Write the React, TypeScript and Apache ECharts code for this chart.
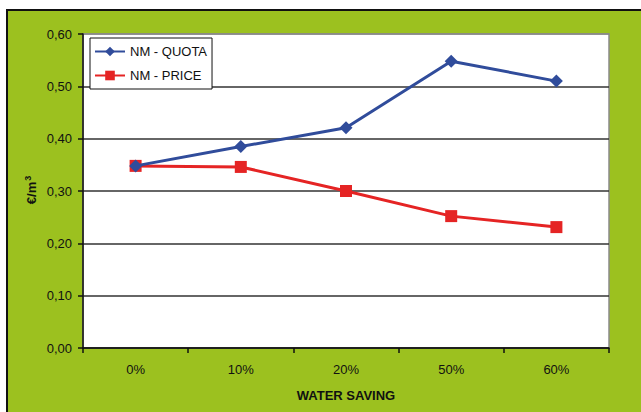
import React, { useEffect, useRef } from "react";
import * as echarts from "echarts";

const categories = ["0%", "10%", "20%", "50%", "60%"];
const quotaValues = [0.348, 0.385, 0.421, 0.548, 0.510];
const priceValues = [0.348, 0.346, 0.300, 0.252, 0.231];
const seriesNames = ["NM - QUOTA", "NM - PRICE"];

const FONT = "'Liberation Sans', Arial, sans-serif";
const GREEN = "#9cc11f";

export default function App() {
  const ref = useRef<HTMLDivElement>(null);
  useEffect(() => {
    if (!ref.current) return;
    const chart = echarts.init(ref.current, null, { renderer: "svg" });
    chart.setOption({
      animation: false,
      backgroundColor: "#ffffff",
      textStyle: { fontFamily: FONT },
      graphic: [
        {
          type: "rect",
          z: -10,
          silent: true,
          shape: { x: 7, y: 10, width: 650, height: 420 },
          style: { fill: GREEN, stroke: "#111", lineWidth: 2 },
        },
        {
          type: "text",
          x: 31,
          y: 190,
          rotation: Math.PI / 2,
          style: {
            text: "€/m{sup|3}",
            font: `bold 13px ${FONT}`,
            fill: "#111",
            align: "center",
            verticalAlign: "middle",
            rich: {
              sup: {
                fontSize: 9,
                fontWeight: "bold",
                fontFamily: FONT,
                fill: "#111",
                padding: [0, 0, 7, 1],
              },
            },
          },
        },
        {
          type: "text",
          x: 346,
          y: 395,
          style: {
            text: "WATER SAVING",
            font: `bold 13px ${FONT}`,
            fill: "#111",
            align: "center",
            verticalAlign: "middle",
          },
        },
      ],
      grid: {
        left: 83,
        top: 34,
        right: 32,
        bottom: 64,
        show: true,
        backgroundColor: "#ffffff",
        borderColor: "#8a8a8a",
        borderWidth: 1.5,
      },
      legend: {
        left: 90,
        top: 38,
        orient: "vertical",
        backgroundColor: "#ffffff",
        borderColor: "#111",
        borderWidth: 1,
        padding: [7, 5, 7, 4],
        itemWidth: 30,
        itemHeight: 12,
        itemGap: 11,
        textStyle: { fontFamily: FONT, fontSize: 13, color: "#111" },
        data: seriesNames,
      },
      xAxis: {
        type: "category",
        data: categories,
        boundaryGap: true,
        axisLine: { lineStyle: { color: "#111", width: 1.5 } },
        axisTick: { show: true, length: 5, lineStyle: { color: "#111", width: 1.5 } },
        axisLabel: { color: "#111", fontSize: 13, fontFamily: FONT, margin: 15 },
      },
      yAxis: {
        type: "value",
        min: 0,
        max: 0.6,
        interval: 0.1,
        axisLine: { show: true, lineStyle: { color: "#111", width: 1.5 } },
        axisTick: { show: true, length: 5, lineStyle: { color: "#111", width: 1.5 } },
        axisLabel: {
          color: "#111",
          fontSize: 13,
          fontFamily: FONT,
          margin: 11,
          formatter: (v: number) => v.toFixed(2).replace(".", ","),
        },
        splitLine: {
          lineStyle: {
            color: ["#333", "#333", "#333", "#333", "#333", "#333", "#8a8a8a"],
            width: 1.5,
          },
        },
      },
      series: [
        {
          name: seriesNames[0],
          type: "line",
          data: quotaValues,
          symbol: "diamond",
          symbolSize: 13,
          itemStyle: { color: "#304c9b" },
          lineStyle: { color: "#304c9b", width: 3 },
          z: 3,
        },
        {
          name: seriesNames[1],
          type: "line",
          data: priceValues,
          symbol: "rect",
          symbolSize: 12,
          itemStyle: { color: "#e52424" },
          lineStyle: { color: "#e52424", width: 3 },
          z: 2,
        },
      ],
    });
    return () => chart.dispose();
  }, []);
  return (
    <div
      ref={ref}
      style={{ position: "absolute", left: 0, top: 0, width: 641, height: 412 }}
    />
  );
}
